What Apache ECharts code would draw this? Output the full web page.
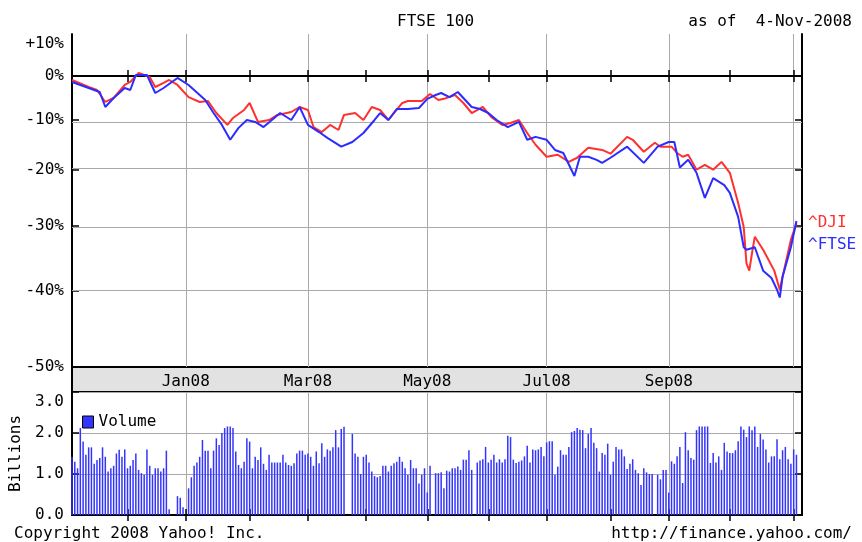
<!DOCTYPE html>
<html>
<head>
<meta charset="utf-8">
<title>FTSE 100</title>
<script src="https://cdn.jsdelivr.net/npm/echarts@6/dist/echarts.min.js"></script>
<style>body{margin:0;background:#fff}</style>
</head>
<body>

<div id="main" style="width: 862px;height:542px;"></div>

<script type="text/javascript">

// x axis: every weekday in the window (holidays stay as empty slots)
let FIRST_DAY = '2007-11-05';
let LAST_DAY = '2008-11-06';
let MONTH = ['Jan','Feb','Mar','Apr','May','Jun','Jul','Aug','Sep','Oct','Nov','Dec'];
let LABEL_MONTHS = [0, 2, 4, 6, 8];
let GRID_MONTHS = [0, 2, 4, 6, 8, 10];

// % change axis (log scale of 1 + change)
let PCT_LABELS = [10, 0, -10, -20, -30, -40, -50];
let PCT_TICKS = [0, -10, -20, -30, -40];
let PCT_GRID = [-10, -20, -30, -40];
let PCT_BASE = [0];

let DJI_DATES = ['2007-11-05','2007-11-13','2007-11-16','2007-11-21','2007-11-26','2007-11-30','2007-12-04','2007-12-07','2007-12-13','2007-12-17','2007-12-20','2007-12-24','2007-12-27',
	'2008-01-02','2008-01-08','2008-01-11','2008-01-16','2008-01-22','2008-01-24','2008-01-30','2008-02-01','2008-02-06','2008-02-12','2008-02-15','2008-02-22','2008-02-27',
	'2008-03-03','2008-03-05','2008-03-10','2008-03-13','2008-03-18','2008-03-20','2008-03-26','2008-03-31','2008-04-03','2008-04-08','2008-04-11','2008-04-18','2008-04-22','2008-04-29',
	'2008-05-02','2008-05-07','2008-05-09','2008-05-15','2008-05-20','2008-05-23','2008-05-29','2008-06-03','2008-06-09','2008-06-12','2008-06-17','2008-06-20','2008-06-25',
	'2008-07-01','2008-07-07','2008-07-11','2008-07-16','2008-07-22','2008-07-29','2008-08-01','2008-08-11','2008-08-13','2008-08-19','2008-08-25','2008-08-27',
	'2008-09-02','2008-09-04','2008-09-08','2008-09-10','2008-09-15','2008-09-18','2008-09-23','2008-09-26','2008-10-01','2008-10-06','2008-10-08','2008-10-09','2008-10-10',
	'2008-10-13','2008-10-14','2008-10-17','2008-10-23','2008-10-27','2008-10-28','2008-10-31','2008-11-04'];
let DJI = [-0.95, -2.59, -3.28, -6.0, -5.1, -2.12, -1.42, 0.7, -0.24, -2.59, -1.65, -0.95, -2.12,
	-4.9, -6.0, -5.78, -8.44, -11.0, -9.51, -7.78, -6.23, -10.37, -9.95, -8.86, -8.22, -7.12,
	-7.78, -11.45, -12.5, -11.0, -12.07, -8.86, -8.44, -9.95, -7.12, -7.78, -9.95, -6.23, -5.78, -5.78,
	-4.2, -5.56, -5.3, -4.43, -6.23, -8.44, -7.12, -9.3, -11.0, -10.58, -9.95, -12.7, -15.1,
	-17.5, -17.1, -18.5, -17.7, -15.7, -16.15, -16.9, -13.5, -14.1, -16.5, -14.7, -15.5,
	-15.5, -16.75, -17.5, -17.1, -20.0, -19.1, -20.0, -18.5, -20.6, -26.1, -30.2, -36.0, -37.1,
	-34.4, -31.8, -33.9, -37.1, -39.9, -38.0, -32.3, -29.6];

let FTSE_DATES = ['2007-11-05','2007-11-13','2007-11-19','2007-11-21','2007-11-26','2007-11-30','2007-12-04','2007-12-06','2007-12-12','2007-12-17','2007-12-20','2007-12-27',
	'2008-01-02','2008-01-04','2008-01-10','2008-01-15','2008-01-18','2008-01-23','2008-01-28','2008-01-31','2008-02-05','2008-02-08','2008-02-13','2008-02-18','2008-02-22','2008-02-27',
	'2008-03-03','2008-03-07','2008-03-12','2008-03-19','2008-03-25','2008-03-31','2008-04-04','2008-04-08','2008-04-11','2008-04-16','2008-04-22','2008-04-28',
	'2008-05-01','2008-05-06','2008-05-08','2008-05-13','2008-05-16','2008-05-20','2008-05-23','2008-05-28','2008-06-02','2008-06-05','2008-06-11','2008-06-17','2008-06-20','2008-06-25',
	'2008-07-01','2008-07-04','2008-07-09','2008-07-15','2008-07-17','2008-07-22','2008-07-25','2008-07-29','2008-08-01','2008-08-11','2008-08-19','2008-08-26',
	'2008-09-01','2008-09-03','2008-09-05','2008-09-10','2008-09-15','2008-09-18','2008-09-23','2008-09-29','2008-10-01','2008-10-06','2008-10-08','2008-10-09',
	'2008-10-14','2008-10-17','2008-10-22','2008-10-24','2008-10-27','2008-10-28','2008-10-31','2008-11-04'];
let FTSE = [-1.42, -2.82, -3.74, -7.12, -5.1, -2.82, -3.28, 0.24, 0.24, -3.97, -2.82, -0.47,
	-2.12, -3.28, -5.56, -8.44, -11.0, -14.1, -11.63, -9.95, -10.37, -11.45, -9.95, -8.44, -9.95, -7.12,
	-11.0, -12.5, -13.7, -15.5, -14.55, -12.7, -9.95, -8.44, -9.95, -7.56, -7.56, -7.34,
	-5.3, -4.43, -3.97, -4.9, -3.74, -5.1, -7.12, -7.56, -8.44, -9.95, -11.45, -10.37, -14.1, -13.5,
	-14.1, -16.15, -16.75, -21.2, -17.5, -17.5, -18.1, -18.7, -17.7, -15.5, -18.7, -15.5,
	-14.55, -14.55, -19.6, -18.1, -20.6, -25.2, -21.6, -22.9, -24.3, -28.5, -33.5, -33.9,
	-33.5, -37.1, -38.2, -39.9, -41.0, -38.0, -33.5, -29.2];

// billions of shares, one value per weekday from FIRST_DAY
let VOLUME = [1.42, 1.30, 1.14, 2.12, 1.79, 1.47, 1.65, 1.65, 1.25, 1.34,
	1.39, 1.65, 1.42, 1.06, 1.14, 1.20, 1.50, 1.59, 1.42, 1.60,
	1.14, 1.20, 1.34, 1.50, 1.10, 1.02, 0.98, 1.60, 1.20, 0.98,
	1.14, 1.14, 1.06, 1.14, 1.57, 0.14, 0, 0, 0.46, 0.42,
	0.19, 0, 0.65, 0.92, 1.20, 1.28, 1.42, 1.83, 1.57, 1.57,
	1.14, 1.57, 1.87, 1.71, 2.00, 2.12, 2.16, 2.16, 2.12, 1.55,
	1.22, 1.14, 1.30, 1.87, 1.79, 1.14, 1.42, 1.34, 1.65, 1.25,
	1.10, 1.47, 1.28, 1.28, 1.28, 1.28, 1.47, 1.28, 1.22, 1.20,
	1.26, 1.50, 1.57, 1.57, 1.47, 1.50, 1.42, 1.20, 1.55, 1.26,
	1.75, 1.42, 1.60, 1.57, 1.65, 2.07, 1.65, 2.10, 2.15, 0,
	0, 1.98, 1.50, 1.42, 1.00, 1.42, 1.47, 1.28, 1.06, 0.95,
	0.92, 0.95, 1.20, 1.20, 1.06, 1.20, 1.26, 1.30, 1.42, 1.30,
	1.14, 0.98, 1.34, 1.14, 1.14, 0.77, 0.98, 1.14, 0.55, 1.20,
	0, 1.02, 1.02, 1.04, 0.65, 1.08, 1.06, 1.14, 1.14, 1.18,
	1.10, 1.35, 1.35, 1.58, 1.10, 0, 1.28, 1.33, 1.36, 1.66,
	1.28, 1.35, 1.47, 1.28, 1.36, 1.28, 1.36, 1.93, 1.90, 1.35,
	1.27, 1.30, 1.33, 1.43, 1.69, 1.28, 1.60, 1.58, 1.60, 1.66,
	1.43, 1.77, 1.80, 1.80, 0.98, 1.18, 1.58, 1.47, 1.47, 1.66,
	2.02, 2.05, 2.12, 2.08, 2.07, 1.63, 1.98, 2.12, 1.76, 1.63,
	1.06, 1.51, 1.47, 1.74, 0.98, 1.30, 1.66, 1.60, 1.60, 1.43,
	1.12, 1.25, 1.36, 1.10, 1.02, 0.73, 1.14, 1.04, 1.00, 1.00,
	0, 0.98, 0.87, 1.10, 1.10, 0.55, 1.31, 1.25, 1.43, 1.66,
	0.78, 2.02, 1.58, 1.39, 1.35, 2.07, 2.16, 2.16, 2.16, 2.16,
	1.27, 1.51, 1.28, 1.43, 1.10, 1.76, 1.55, 1.51, 1.51, 1.58,
	1.80, 2.16, 2.08, 1.90, 2.16, 2.07, 2.16, 1.66, 1.98, 1.84,
	1.60, 1.28, 1.43, 1.43, 1.85, 1.36, 1.58, 1.66, 1.36, 1.25,
	1.60, 1.47];

let FONT = "'DejaVu Sans Mono', monospace";
let RED = '#ff3030';
let BLUE = '#2c2cff';

function weekdays(from, to){
	let r = [];
	let d = new Date(from + 'T00:00:00Z');
	let end = new Date(to + 'T00:00:00Z');
	while(d <= end){
		let w = d.getUTCDay();
		if(w > 0 && w < 6) r.push(d.toISOString().slice(0, 10));
		d.setUTCDate(d.getUTCDate() + 1);
	}
	return r;
}

let DAYS = weekdays(FIRST_DAY, LAST_DAY);

// first weekday of a month -> month index, otherwise -1
function monthStart(i){
	if(i === 0) return -1;
	let m = DAYS[i].slice(5, 7);
	return m !== DAYS[i - 1].slice(5, 7) ? parseInt(m, 10) - 1 : -1;
}

function toLog(p){ return Math.log(1 + p / 100); }

function pctLabel(v){
	let p = Math.round((Math.exp(v) - 1) * 100);
	let s = (p > 0 ? '+' : '') + p + '%';
	return p === PCT_LABELS[0] ? '{top|' + s + '}' : s;
}

let txt = { fontFamily: FONT, fontSize: 16, color: '#000' };
let black = { show: true, lineStyle: { color: '#000', width: 2 } };

function xAxis(grid, pos, opts){
	return Object.assign({
		type: 'category',
		gridIndex: grid,
		position: pos,
		data: DAYS,
		boundaryGap: false,
		axisLine: black,
		axisTick: { show: true, inside: true, length: 6, lineStyle: { color: '#000', width: 1.5 },
			interval: (i) => monthStart(i) >= 0 },
		axisLabel: { show: false },
		splitLine: { show: false }
	}, opts || {});
}

let gridSplit = { show: true, lineStyle: { color: '#aaaaaa', width: 1 },
	interval: (i) => GRID_MONTHS.indexOf(monthStart(i)) >= 0 };

let option = {
	backgroundColor: '#fff',
	animation: false,
	title: [
		{ text: 'FTSE 100', left: 392, top: 9, textStyle: Object.assign({ fontWeight: 'normal' }, txt) },
		{ text: 'as of  4-Nov-2008', right: 5, top: 9, textStyle: Object.assign({ fontWeight: 'normal' }, txt) },
		{ text: 'Copyright 2008 Yahoo! Inc.', left: 9, top: 521, textStyle: Object.assign({ fontWeight: 'normal' }, txt) },
		{ text: 'http://finance.yahoo.com/', right: 5, top: 521, textStyle: Object.assign({ fontWeight: 'normal' }, txt) }
	],
	legend: [
		{
			data: [{ name: '^DJI', textStyle: { color: RED } }, { name: '^FTSE', textStyle: { color: BLUE } }],
			icon: 'none', orient: 'vertical', left: 798, top: 210, itemWidth: 0, itemGap: 6,
			selectedMode: false, textStyle: { fontFamily: FONT, fontSize: 16 }
		},
		{
			data: ['Volume'], icon: 'rect', left: 77, top: 409, itemWidth: 11, itemHeight: 12,
			itemStyle: { borderColor: '#000', borderWidth: 1 },
			selectedMode: false, textStyle: txt
		}
	],
	graphic: [
		{ type: 'rect', z: -1, shape: { x: 72, y: 367, width: 730, height: 25 },
			style: { fill: '#e2e2e2', stroke: '#000', lineWidth: 2 } }
	],
	grid: [
		{ left: 72, top: 34, width: 730, height: 333 },
		{ left: 72, top: 392, width: 730, height: 123 }
	],
	xAxis: [
		xAxis(0, 'bottom', {
			axisLabel: { show: true, margin: 7, fontFamily: FONT, fontSize: 16, color: '#000',
				interval: (i) => LABEL_MONTHS.indexOf(monthStart(i)) >= 0,
				formatter: (v) => MONTH[parseInt(v.slice(5, 7), 10) - 1] + v.slice(2, 4) },
			splitLine: gridSplit
		}),
		xAxis(0, 'top'),
		xAxis(1, 'top'),
		xAxis(1, 'bottom', { splitLine: gridSplit })
	],
	yAxis: [
		{
			type: 'value', gridIndex: 0, position: 'left',
			min: Math.log(0.5), max: 0.1,
			axisLine: black,
			axisTick: { show: true, inside: true, length: 7, lineStyle: { color: '#000', width: 1.5 },
				customValues: PCT_TICKS.map(toLog) },
			axisLabel: { show: true, margin: 8, fontFamily: FONT, fontSize: 16, color: '#000',
				customValues: PCT_LABELS.map(toLog), formatter: pctLabel,
				rich: { top: { fontFamily: FONT, fontSize: 16, color: '#000', padding: [16, 0, 0, 0] } } },
			splitLine: { show: false }
		},
		{
			type: 'value', gridIndex: 0, position: 'right',
			min: Math.log(0.5), max: 0.1,
			axisLine: black,
			axisTick: { show: true, inside: true, length: 7, lineStyle: { color: '#000', width: 1.5 },
				customValues: PCT_TICKS.map(toLog) },
			axisLabel: { show: false },
			splitLine: { show: false }
		},
		{
			type: 'value', gridIndex: 1, position: 'left',
			min: 0, max: 3, interval: 1,
			name: 'Billions', nameLocation: 'middle', nameRotate: 90, nameGap: 38,
			nameTextStyle: txt,
			axisLine: black,
			axisTick: { show: true, inside: true, length: 7, lineStyle: { color: '#000', width: 1.5 } },
			axisLabel: { show: true, margin: 8, fontFamily: FONT, fontSize: 16, color: '#000',
				formatter: (v) => v === 3 ? '{top|3.0}' : v.toFixed(1),
				rich: { top: { fontFamily: FONT, fontSize: 16, color: '#000', padding: [20, 0, 0, 0] } } },
			splitLine: { show: true, lineStyle: { color: '#aaaaaa', width: 1 } }
		},
		{
			type: 'value', gridIndex: 1, position: 'right',
			min: 0, max: 3, interval: 1,
			axisLine: black,
			axisTick: { show: true, inside: true, length: 7, lineStyle: { color: '#000', width: 1.5 } },
			axisLabel: { show: false },
			splitLine: { show: false }
		}
	],
	series: [
		{
			name: '^DJI', type: 'line', xAxisIndex: 0, yAxisIndex: 0, z: 3,
			data: DJI_DATES.map((d, i) => [d, toLog(DJI[i])]),
			symbol: 'none', lineStyle: { color: RED, width: 2 }, itemStyle: { color: RED },
			markLine: {
				silent: true, symbol: 'none', z: 1, label: { show: false },
				data: PCT_GRID.map((p) => ({ yAxis: toLog(p), lineStyle: { color: '#aaaaaa', width: 1, type: 'solid' } }))
					.concat(PCT_BASE.map((p) => ({ yAxis: toLog(p), lineStyle: { color: '#000', width: 1.5, type: 'solid' } })))
			}
		},
		{
			name: '^FTSE', type: 'line', xAxisIndex: 0, yAxisIndex: 0, z: 4,
			data: FTSE_DATES.map((d, i) => [d, toLog(FTSE[i])]),
			symbol: 'none', lineStyle: { color: BLUE, width: 2 }, itemStyle: { color: BLUE }
		},
		{
			name: 'Volume', type: 'bar', xAxisIndex: 3, yAxisIndex: 2,
			data: VOLUME, barWidth: 1.5,
			itemStyle: { color: '#3434ff' }
		}
	]
};

var myChart = echarts.init(document.getElementById('main'));
myChart.setOption(option);

</script>

</body>
</html>
